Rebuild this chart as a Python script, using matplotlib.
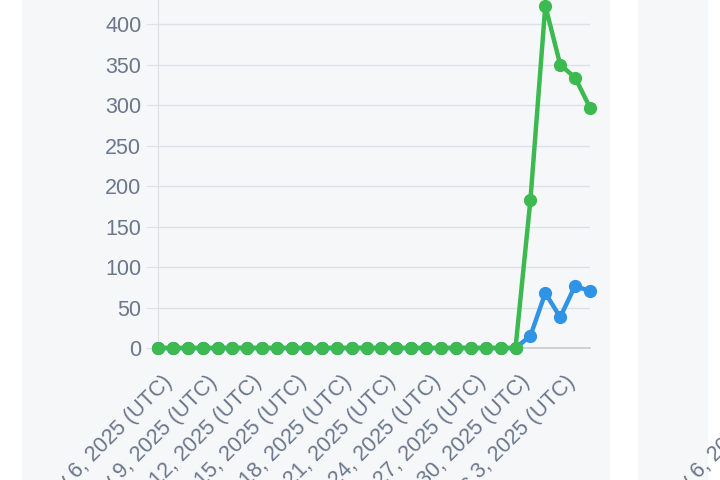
import matplotlib.pyplot as plt
import matplotlib.transforms as mtransforms
from matplotlib.patches import Rectangle
import numpy as np

plt.rcParams['font.family'] = ['Liberation Sans', 'DejaVu Sans']

# daily values, Nov 6 .. Dec 5 2025
days = ["Nov 6", "Nov 7", "Nov 8", "Nov 9", "Nov 10", "Nov 11", "Nov 12", "Nov 13",
        "Nov 14", "Nov 15", "Nov 16", "Nov 17", "Nov 18", "Nov 19", "Nov 20", "Nov 21",
        "Nov 22", "Nov 23", "Nov 24", "Nov 25", "Nov 26", "Nov 27", "Nov 28", "Nov 29",
        "Nov 30", "Dec 1", "Dec 2", "Dec 3", "Dec 4", "Dec 5"]
blue_vals = [0] * 25 + [15, 68, 38, 77, 70]
green_vals = [0] * 25 + [183, 423, 350, 334, 297]
label_every = 3

green = "#3cb94f"
blue = "#2f93e6"
text_col = "#6b778c"
grid_col = "#dde1e6"
panel_col = "#f5f7f9"
fs = 15.5

fig = plt.figure(figsize=(7.2, 4.8), dpi=100)
fig.patch.set_facecolor("white")
W, H = 720, 480
fig.patches.append(Rectangle((22 / W, 0), (610 - 22) / W, 1, transform=fig.transFigure,
                             facecolor=panel_col, edgecolor="none", zorder=-10))
fig.patches.append(Rectangle((638 / W, 0), (708 - 638) / W, 1, transform=fig.transFigure,
                             facecolor=panel_col, edgecolor="none", zorder=-10))

ax = fig.add_axes([158 / W, (480 - 348) / H, (590 - 158) / W, 348 / H])
ax.set_facecolor("none")
x = np.arange(len(days))
ax.plot(x, blue_vals, color=blue, lw=3.2, marker="o", ms=8.5, clip_on=False, zorder=3)
ax.plot(x, green_vals, color=green, lw=3.2, marker="o", ms=8.5, clip_on=False, zorder=4)

ax.set_xlim(0, len(days) - 1)
ax.set_ylim(0, 430)
ax.set_yticks(range(0, 401, 50))
ax.yaxis.grid(True, color=grid_col, lw=1)
ax.set_axisbelow(True)
for s in ["top", "right"]:
    ax.spines[s].set_visible(False)
ax.spines["left"].set_color(grid_col)
ax.spines["bottom"].set_color("#c8ccd2")
ax.spines["bottom"].set_linewidth(1.2)
ax.tick_params(axis="y", colors=grid_col, labelcolor=text_col, labelsize=fs, length=9, pad=3)

shift = mtransforms.ScaledTranslation(4 / 100, 0, fig.dpi_scale_trans)

ticks = x[::label_every]
ax.set_xticks(ticks)
ax.set_xticklabels([f"{days[i]}, 2025 (UTC)" for i in ticks], rotation=45,
                   ha="right", rotation_mode="anchor", color=text_col, fontsize=fs)
ax.tick_params(axis="x", length=0, pad=17)
for lab in ax.get_xticklabels():
    lab.set_transform(lab.get_transform() + shift)

# edge of the neighbouring chart
ax2 = fig.add_axes([784 / W, (480 - 348) / H, 0.3, 348 / H])
ax2.set_facecolor("none")
ax2.set_xlim(0, len(days) - 1)
ax2.set_ylim(0, 430)
for s in ax2.spines.values():
    s.set_visible(False)
ax2.set_yticks([])
ax2.set_xticks([0])
ax2.set_xticklabels(["Nov 6, 2025 (UTC)"], rotation=45, ha="right",
                    rotation_mode="anchor", color=text_col, fontsize=fs)
ax2.tick_params(axis="x", length=0, pad=17)

fig.savefig("out.png", dpi=100)
